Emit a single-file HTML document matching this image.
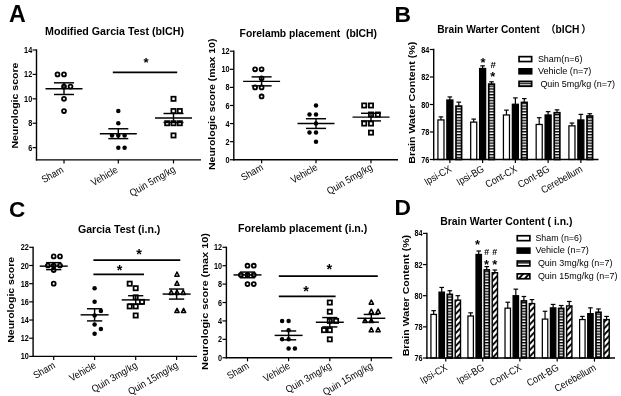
<!DOCTYPE html>
<html lang="en"><head><meta charset="utf-8"><title>Figure</title>
<style>html,body{margin:0;padding:0;background:#fff;}svg{display:block;will-change:transform;}text{font-family:'Liberation Sans', 'Noto Sans CJK SC', sans-serif;}</style>
</head><body>
<svg width="621" height="396" viewBox="0 0 621 396">
<defs>
<pattern id="hl" width="4" height="2.85" patternUnits="userSpaceOnUse"><rect width="4" height="2.85" fill="#fff"/><rect y="0" width="4" height="1.4" fill="#000"/></pattern>
<pattern id="dg" width="6" height="6.4" patternUnits="userSpaceOnUse"><rect width="6" height="6.4" fill="#fff"/><path d="M-3,9.6 L9,-3.2 M-9,9.6 L3,-3.2 M3,9.6 L15,-3.2" stroke="#000" stroke-width="1.9"/></pattern>
</defs>
<rect width="621" height="396" fill="#fff"/>
<text x="9.00" y="22.40" font-size="23.2" text-anchor="start" fill="#000" font-weight="bold">A</text>
<text x="394.50" y="21.60" font-size="22.8" text-anchor="start" fill="#000" font-weight="bold">B</text>
<text x="8.90" y="217.30" font-size="22.6" text-anchor="start" fill="#000" font-weight="bold">C</text>
<text x="394.50" y="214.70" font-size="22.8" text-anchor="start" fill="#000" font-weight="bold">D</text>
<line x1="36.50" y1="49.35" x2="36.50" y2="160.50" stroke="#000" stroke-width="1.4" stroke-linecap="butt"/>
<line x1="35.85" y1="159.85" x2="201.00" y2="159.85" stroke="#000" stroke-width="1.4" stroke-linecap="butt"/>
<line x1="32.60" y1="147.64" x2="36.50" y2="147.64" stroke="#000" stroke-width="1.2" stroke-linecap="butt"/>
<text x="32.20" y="150.69" font-size="8.6" text-anchor="end" fill="#000" font-weight="bold" textLength="4.05" lengthAdjust="spacingAndGlyphs">6</text>
<line x1="32.60" y1="123.23" x2="36.50" y2="123.23" stroke="#000" stroke-width="1.2" stroke-linecap="butt"/>
<text x="32.20" y="126.28" font-size="8.6" text-anchor="end" fill="#000" font-weight="bold" textLength="4.05" lengthAdjust="spacingAndGlyphs">8</text>
<line x1="32.60" y1="98.82" x2="36.50" y2="98.82" stroke="#000" stroke-width="1.2" stroke-linecap="butt"/>
<text x="32.20" y="101.87" font-size="8.6" text-anchor="end" fill="#000" font-weight="bold" textLength="8.10" lengthAdjust="spacingAndGlyphs">10</text>
<line x1="32.60" y1="74.41" x2="36.50" y2="74.41" stroke="#000" stroke-width="1.2" stroke-linecap="butt"/>
<text x="32.20" y="77.46" font-size="8.6" text-anchor="end" fill="#000" font-weight="bold" textLength="8.10" lengthAdjust="spacingAndGlyphs">12</text>
<line x1="32.60" y1="50.00" x2="36.50" y2="50.00" stroke="#000" stroke-width="1.2" stroke-linecap="butt"/>
<text x="32.20" y="53.05" font-size="8.6" text-anchor="end" fill="#000" font-weight="bold" textLength="8.10" lengthAdjust="spacingAndGlyphs">14</text>
<text x="17.80" y="105.60" font-size="9.8" text-anchor="middle" fill="#000" font-weight="bold" transform="rotate(-90 17.80 105.60)" textLength="86.00" lengthAdjust="spacingAndGlyphs">Neurologic score</text>
<text x="45.00" y="35.30" font-size="10.6" text-anchor="start" fill="#000" font-weight="bold" textLength="139.00" lengthAdjust="spacingAndGlyphs">Modified Garcia Test (bICH)</text>
<line x1="64.00" y1="159.85" x2="64.00" y2="163.45" stroke="#000" stroke-width="1.2" stroke-linecap="butt"/>
<text x="64.20" y="171.65" font-size="10.1" text-anchor="end" fill="#000" transform="rotate(-30 64.20 171.65)" textLength="23.45" lengthAdjust="spacingAndGlyphs">Sham</text>
<circle cx="57.50" cy="74.41" r="1.95" fill="#fff" stroke="#000" stroke-width="1.8"/>
<circle cx="64.00" cy="74.41" r="1.95" fill="#fff" stroke="#000" stroke-width="1.8"/>
<circle cx="64.00" cy="86.62" r="1.95" fill="#fff" stroke="#000" stroke-width="1.8"/>
<circle cx="70.50" cy="86.62" r="1.95" fill="#fff" stroke="#000" stroke-width="1.8"/>
<circle cx="64.00" cy="98.82" r="1.95" fill="#fff" stroke="#000" stroke-width="1.8"/>
<circle cx="64.00" cy="111.03" r="1.95" fill="#fff" stroke="#000" stroke-width="1.8"/>
<line x1="45.50" y1="88.65" x2="82.50" y2="88.65" stroke="#000" stroke-width="1.45" stroke-linecap="butt"/>
<line x1="54.00" y1="82.83" x2="74.00" y2="82.83" stroke="#000" stroke-width="1.45" stroke-linecap="butt"/>
<line x1="54.00" y1="94.48" x2="74.00" y2="94.48" stroke="#000" stroke-width="1.45" stroke-linecap="butt"/>
<line x1="64.00" y1="82.83" x2="64.00" y2="94.48" stroke="#000" stroke-width="1.45" stroke-linecap="butt"/>
<line x1="118.30" y1="159.85" x2="118.30" y2="163.45" stroke="#000" stroke-width="1.2" stroke-linecap="butt"/>
<text x="118.60" y="171.85" font-size="10.1" text-anchor="end" fill="#000" transform="rotate(-30 118.60 171.85)" textLength="28.95" lengthAdjust="spacingAndGlyphs">Vehicle</text>
<circle cx="118.30" cy="111.03" r="2.25" fill="#000"/>
<circle cx="118.30" cy="123.23" r="2.25" fill="#000"/>
<circle cx="112.00" cy="135.44" r="2.25" fill="#000"/>
<circle cx="118.30" cy="135.44" r="2.25" fill="#000"/>
<circle cx="124.60" cy="135.44" r="2.25" fill="#000"/>
<circle cx="118.30" cy="147.64" r="2.25" fill="#000"/>
<circle cx="124.60" cy="147.64" r="2.25" fill="#000"/>
<line x1="99.80" y1="133.70" x2="136.80" y2="133.70" stroke="#000" stroke-width="1.45" stroke-linecap="butt"/>
<line x1="108.30" y1="128.76" x2="128.30" y2="128.76" stroke="#000" stroke-width="1.45" stroke-linecap="butt"/>
<line x1="108.30" y1="138.63" x2="128.30" y2="138.63" stroke="#000" stroke-width="1.45" stroke-linecap="butt"/>
<line x1="118.30" y1="128.76" x2="118.30" y2="138.63" stroke="#000" stroke-width="1.45" stroke-linecap="butt"/>
<line x1="173.50" y1="159.85" x2="173.50" y2="163.45" stroke="#000" stroke-width="1.2" stroke-linecap="butt"/>
<text x="176.10" y="171.25" font-size="10.1" text-anchor="end" fill="#000" transform="rotate(-30 176.10 171.25)" textLength="50.89" lengthAdjust="spacingAndGlyphs">Quin 5mg/kg</text>
<rect x="171.40" y="96.72" width="4.2" height="4.2" fill="#fff" stroke="#000" stroke-width="1.75"/>
<rect x="171.40" y="108.93" width="4.2" height="4.2" fill="#fff" stroke="#000" stroke-width="1.75"/>
<rect x="177.70" y="108.93" width="4.2" height="4.2" fill="#fff" stroke="#000" stroke-width="1.75"/>
<rect x="165.10" y="121.13" width="4.2" height="4.2" fill="#fff" stroke="#000" stroke-width="1.75"/>
<rect x="171.40" y="121.13" width="4.2" height="4.2" fill="#fff" stroke="#000" stroke-width="1.75"/>
<rect x="177.70" y="121.13" width="4.2" height="4.2" fill="#fff" stroke="#000" stroke-width="1.75"/>
<rect x="171.40" y="133.34" width="4.2" height="4.2" fill="#fff" stroke="#000" stroke-width="1.75"/>
<line x1="155.00" y1="118.00" x2="192.00" y2="118.00" stroke="#000" stroke-width="1.45" stroke-linecap="butt"/>
<line x1="163.50" y1="113.50" x2="183.50" y2="113.50" stroke="#000" stroke-width="1.45" stroke-linecap="butt"/>
<line x1="163.50" y1="122.50" x2="183.50" y2="122.50" stroke="#000" stroke-width="1.45" stroke-linecap="butt"/>
<line x1="173.50" y1="113.50" x2="173.50" y2="122.50" stroke="#000" stroke-width="1.45" stroke-linecap="butt"/>
<line x1="112.80" y1="72.30" x2="177.20" y2="72.30" stroke="#000" stroke-width="1.7" stroke-linecap="butt"/>
<text x="146.10" y="67.13" font-size="13.2" text-anchor="middle" fill="#000" font-weight="bold">*</text>
<line x1="233.80" y1="50.55" x2="233.80" y2="160.40" stroke="#000" stroke-width="1.4" stroke-linecap="butt"/>
<line x1="233.15" y1="159.75" x2="398.00" y2="159.75" stroke="#000" stroke-width="1.4" stroke-linecap="butt"/>
<line x1="229.90" y1="159.75" x2="233.80" y2="159.75" stroke="#000" stroke-width="1.2" stroke-linecap="butt"/>
<text x="229.50" y="162.80" font-size="8.6" text-anchor="end" fill="#000" font-weight="bold" textLength="4.05" lengthAdjust="spacingAndGlyphs">0</text>
<line x1="229.90" y1="141.66" x2="233.80" y2="141.66" stroke="#000" stroke-width="1.2" stroke-linecap="butt"/>
<text x="229.50" y="144.71" font-size="8.6" text-anchor="end" fill="#000" font-weight="bold" textLength="4.05" lengthAdjust="spacingAndGlyphs">2</text>
<line x1="229.90" y1="123.57" x2="233.80" y2="123.57" stroke="#000" stroke-width="1.2" stroke-linecap="butt"/>
<text x="229.50" y="126.62" font-size="8.6" text-anchor="end" fill="#000" font-weight="bold" textLength="4.05" lengthAdjust="spacingAndGlyphs">4</text>
<line x1="229.90" y1="105.48" x2="233.80" y2="105.48" stroke="#000" stroke-width="1.2" stroke-linecap="butt"/>
<text x="229.50" y="108.53" font-size="8.6" text-anchor="end" fill="#000" font-weight="bold" textLength="4.05" lengthAdjust="spacingAndGlyphs">6</text>
<line x1="229.90" y1="87.38" x2="233.80" y2="87.38" stroke="#000" stroke-width="1.2" stroke-linecap="butt"/>
<text x="229.50" y="90.43" font-size="8.6" text-anchor="end" fill="#000" font-weight="bold" textLength="4.05" lengthAdjust="spacingAndGlyphs">8</text>
<line x1="229.90" y1="69.29" x2="233.80" y2="69.29" stroke="#000" stroke-width="1.2" stroke-linecap="butt"/>
<text x="229.50" y="72.34" font-size="8.6" text-anchor="end" fill="#000" font-weight="bold" textLength="8.10" lengthAdjust="spacingAndGlyphs">10</text>
<line x1="229.90" y1="51.20" x2="233.80" y2="51.20" stroke="#000" stroke-width="1.2" stroke-linecap="butt"/>
<text x="229.50" y="54.25" font-size="8.6" text-anchor="end" fill="#000" font-weight="bold" textLength="8.10" lengthAdjust="spacingAndGlyphs">12</text>
<text x="215.30" y="104.30" font-size="9.8" text-anchor="middle" fill="#000" font-weight="bold" transform="rotate(-90 215.30 104.30)" textLength="131.50" lengthAdjust="spacingAndGlyphs">Neurologic score (max 10)</text>
<text x="239.60" y="37.00" font-size="10.6" text-anchor="start" fill="#000" font-weight="bold" textLength="137.40" lengthAdjust="spacingAndGlyphs">Forelamb placement &#160;(bICH)</text>
<line x1="261.60" y1="159.75" x2="261.60" y2="163.35" stroke="#000" stroke-width="1.2" stroke-linecap="butt"/>
<text x="263.90" y="169.35" font-size="10.1" text-anchor="end" fill="#000" transform="rotate(-30 263.90 169.35)" textLength="23.45" lengthAdjust="spacingAndGlyphs">Sham</text>
<circle cx="255.10" cy="69.29" r="1.95" fill="#fff" stroke="#000" stroke-width="1.8"/>
<circle cx="261.60" cy="69.29" r="1.95" fill="#fff" stroke="#000" stroke-width="1.8"/>
<circle cx="261.60" cy="78.34" r="1.95" fill="#fff" stroke="#000" stroke-width="1.8"/>
<circle cx="255.10" cy="87.38" r="1.95" fill="#fff" stroke="#000" stroke-width="1.8"/>
<circle cx="261.60" cy="87.38" r="1.95" fill="#fff" stroke="#000" stroke-width="1.8"/>
<circle cx="261.60" cy="96.43" r="1.95" fill="#fff" stroke="#000" stroke-width="1.8"/>
<line x1="243.10" y1="81.35" x2="280.10" y2="81.35" stroke="#000" stroke-width="1.45" stroke-linecap="butt"/>
<line x1="251.60" y1="76.88" x2="271.60" y2="76.88" stroke="#000" stroke-width="1.45" stroke-linecap="butt"/>
<line x1="251.60" y1="85.83" x2="271.60" y2="85.83" stroke="#000" stroke-width="1.45" stroke-linecap="butt"/>
<line x1="261.60" y1="76.88" x2="261.60" y2="85.83" stroke="#000" stroke-width="1.45" stroke-linecap="butt"/>
<line x1="316.00" y1="159.75" x2="316.00" y2="163.35" stroke="#000" stroke-width="1.2" stroke-linecap="butt"/>
<text x="318.30" y="169.35" font-size="10.1" text-anchor="end" fill="#000" transform="rotate(-30 318.30 169.35)" textLength="28.95" lengthAdjust="spacingAndGlyphs">Vehicle</text>
<circle cx="316.00" cy="105.48" r="2.25" fill="#000"/>
<circle cx="309.50" cy="114.52" r="2.25" fill="#000"/>
<circle cx="316.00" cy="114.52" r="2.25" fill="#000"/>
<circle cx="316.00" cy="123.57" r="2.25" fill="#000"/>
<circle cx="309.50" cy="132.61" r="2.25" fill="#000"/>
<circle cx="316.00" cy="132.61" r="2.25" fill="#000"/>
<circle cx="316.00" cy="141.66" r="2.25" fill="#000"/>
<line x1="297.50" y1="123.57" x2="334.50" y2="123.57" stroke="#000" stroke-width="1.45" stroke-linecap="butt"/>
<line x1="306.00" y1="118.73" x2="326.00" y2="118.73" stroke="#000" stroke-width="1.45" stroke-linecap="butt"/>
<line x1="306.00" y1="128.40" x2="326.00" y2="128.40" stroke="#000" stroke-width="1.45" stroke-linecap="butt"/>
<line x1="316.00" y1="118.73" x2="316.00" y2="128.40" stroke="#000" stroke-width="1.45" stroke-linecap="butt"/>
<line x1="371.00" y1="159.75" x2="371.00" y2="163.35" stroke="#000" stroke-width="1.2" stroke-linecap="butt"/>
<text x="373.30" y="169.35" font-size="10.1" text-anchor="end" fill="#000" transform="rotate(-30 373.30 169.35)" textLength="50.89" lengthAdjust="spacingAndGlyphs">Quin 5mg/kg</text>
<rect x="362.10" y="103.38" width="4.2" height="4.2" fill="#fff" stroke="#000" stroke-width="1.75"/>
<rect x="368.90" y="103.38" width="4.2" height="4.2" fill="#fff" stroke="#000" stroke-width="1.75"/>
<rect x="368.90" y="112.42" width="4.2" height="4.2" fill="#fff" stroke="#000" stroke-width="1.75"/>
<rect x="375.70" y="112.42" width="4.2" height="4.2" fill="#fff" stroke="#000" stroke-width="1.75"/>
<rect x="362.10" y="121.47" width="4.2" height="4.2" fill="#fff" stroke="#000" stroke-width="1.75"/>
<rect x="368.90" y="121.47" width="4.2" height="4.2" fill="#fff" stroke="#000" stroke-width="1.75"/>
<rect x="368.90" y="130.51" width="4.2" height="4.2" fill="#fff" stroke="#000" stroke-width="1.75"/>
<line x1="352.50" y1="117.11" x2="389.50" y2="117.11" stroke="#000" stroke-width="1.45" stroke-linecap="butt"/>
<line x1="361.00" y1="113.30" x2="381.00" y2="113.30" stroke="#000" stroke-width="1.45" stroke-linecap="butt"/>
<line x1="361.00" y1="120.91" x2="381.00" y2="120.91" stroke="#000" stroke-width="1.45" stroke-linecap="butt"/>
<line x1="371.00" y1="113.30" x2="371.00" y2="120.91" stroke="#000" stroke-width="1.45" stroke-linecap="butt"/>
<line x1="33.10" y1="246.65" x2="33.10" y2="357.05" stroke="#000" stroke-width="1.4" stroke-linecap="butt"/>
<line x1="32.45" y1="356.40" x2="197.00" y2="356.40" stroke="#000" stroke-width="1.4" stroke-linecap="butt"/>
<line x1="29.20" y1="356.40" x2="33.10" y2="356.40" stroke="#000" stroke-width="1.2" stroke-linecap="butt"/>
<text x="28.80" y="359.45" font-size="8.6" text-anchor="end" fill="#000" font-weight="bold" textLength="8.10" lengthAdjust="spacingAndGlyphs">10</text>
<line x1="29.20" y1="338.22" x2="33.10" y2="338.22" stroke="#000" stroke-width="1.2" stroke-linecap="butt"/>
<text x="28.80" y="341.27" font-size="8.6" text-anchor="end" fill="#000" font-weight="bold" textLength="8.10" lengthAdjust="spacingAndGlyphs">12</text>
<line x1="29.20" y1="320.03" x2="33.10" y2="320.03" stroke="#000" stroke-width="1.2" stroke-linecap="butt"/>
<text x="28.80" y="323.08" font-size="8.6" text-anchor="end" fill="#000" font-weight="bold" textLength="8.10" lengthAdjust="spacingAndGlyphs">14</text>
<line x1="29.20" y1="301.85" x2="33.10" y2="301.85" stroke="#000" stroke-width="1.2" stroke-linecap="butt"/>
<text x="28.80" y="304.90" font-size="8.6" text-anchor="end" fill="#000" font-weight="bold" textLength="8.10" lengthAdjust="spacingAndGlyphs">16</text>
<line x1="29.20" y1="283.67" x2="33.10" y2="283.67" stroke="#000" stroke-width="1.2" stroke-linecap="butt"/>
<text x="28.80" y="286.72" font-size="8.6" text-anchor="end" fill="#000" font-weight="bold" textLength="8.10" lengthAdjust="spacingAndGlyphs">18</text>
<line x1="29.20" y1="265.48" x2="33.10" y2="265.48" stroke="#000" stroke-width="1.2" stroke-linecap="butt"/>
<text x="28.80" y="268.53" font-size="8.6" text-anchor="end" fill="#000" font-weight="bold" textLength="8.10" lengthAdjust="spacingAndGlyphs">20</text>
<line x1="29.20" y1="247.30" x2="33.10" y2="247.30" stroke="#000" stroke-width="1.2" stroke-linecap="butt"/>
<text x="28.80" y="250.35" font-size="8.6" text-anchor="end" fill="#000" font-weight="bold" textLength="8.10" lengthAdjust="spacingAndGlyphs">22</text>
<text x="13.70" y="299.80" font-size="9.8" text-anchor="middle" fill="#000" font-weight="bold" transform="rotate(-90 13.70 299.80)" textLength="86.00" lengthAdjust="spacingAndGlyphs">Neurologic score</text>
<text x="77.90" y="233.00" font-size="10.6" text-anchor="start" fill="#000" font-weight="bold" textLength="82.50" lengthAdjust="spacingAndGlyphs">Garcia Test (i.n.)</text>
<line x1="53.70" y1="356.40" x2="53.70" y2="360.00" stroke="#000" stroke-width="1.2" stroke-linecap="butt"/>
<text x="56.00" y="367.20" font-size="10.1" text-anchor="end" fill="#000" transform="rotate(-30 56.00 367.20)" textLength="23.45" lengthAdjust="spacingAndGlyphs">Sham</text>
<circle cx="53.70" cy="256.39" r="1.95" fill="#fff" stroke="#000" stroke-width="1.8"/>
<circle cx="60.00" cy="256.39" r="1.95" fill="#fff" stroke="#000" stroke-width="1.8"/>
<circle cx="47.90" cy="265.48" r="1.95" fill="#fff" stroke="#000" stroke-width="1.8"/>
<circle cx="53.70" cy="265.48" r="1.95" fill="#fff" stroke="#000" stroke-width="1.8"/>
<circle cx="60.00" cy="265.48" r="1.95" fill="#fff" stroke="#000" stroke-width="1.8"/>
<circle cx="53.70" cy="270.03" r="1.95" fill="#fff" stroke="#000" stroke-width="1.8"/>
<circle cx="53.70" cy="283.67" r="1.95" fill="#fff" stroke="#000" stroke-width="1.8"/>
<line x1="39.70" y1="266.13" x2="67.70" y2="266.13" stroke="#000" stroke-width="1.45" stroke-linecap="butt"/>
<line x1="46.10" y1="262.64" x2="61.30" y2="262.64" stroke="#000" stroke-width="1.45" stroke-linecap="butt"/>
<line x1="46.10" y1="269.63" x2="61.30" y2="269.63" stroke="#000" stroke-width="1.45" stroke-linecap="butt"/>
<line x1="53.70" y1="262.64" x2="53.70" y2="269.63" stroke="#000" stroke-width="1.45" stroke-linecap="butt"/>
<line x1="94.60" y1="356.40" x2="94.60" y2="360.00" stroke="#000" stroke-width="1.2" stroke-linecap="butt"/>
<text x="96.90" y="367.20" font-size="10.1" text-anchor="end" fill="#000" transform="rotate(-30 96.90 367.20)" textLength="28.95" lengthAdjust="spacingAndGlyphs">Vehicle</text>
<circle cx="94.60" cy="288.21" r="2.25" fill="#000"/>
<circle cx="94.60" cy="301.85" r="2.25" fill="#000"/>
<circle cx="100.90" cy="310.94" r="2.25" fill="#000"/>
<circle cx="94.60" cy="315.49" r="2.25" fill="#000"/>
<circle cx="94.60" cy="324.58" r="2.25" fill="#000"/>
<circle cx="100.90" cy="329.12" r="2.25" fill="#000"/>
<circle cx="94.60" cy="333.67" r="2.25" fill="#000"/>
<line x1="80.60" y1="314.84" x2="108.60" y2="314.84" stroke="#000" stroke-width="1.45" stroke-linecap="butt"/>
<line x1="87.00" y1="308.77" x2="102.20" y2="308.77" stroke="#000" stroke-width="1.45" stroke-linecap="butt"/>
<line x1="87.00" y1="320.91" x2="102.20" y2="320.91" stroke="#000" stroke-width="1.45" stroke-linecap="butt"/>
<line x1="94.60" y1="308.77" x2="94.60" y2="320.91" stroke="#000" stroke-width="1.45" stroke-linecap="butt"/>
<line x1="135.70" y1="356.40" x2="135.70" y2="360.00" stroke="#000" stroke-width="1.2" stroke-linecap="butt"/>
<text x="138.00" y="367.20" font-size="10.1" text-anchor="end" fill="#000" transform="rotate(-30 138.00 367.20)" textLength="50.89" lengthAdjust="spacingAndGlyphs">Quin 3mg/kg</text>
<rect x="127.60" y="281.57" width="4.2" height="4.2" fill="#fff" stroke="#000" stroke-width="1.75"/>
<rect x="133.60" y="286.11" width="4.2" height="4.2" fill="#fff" stroke="#000" stroke-width="1.75"/>
<rect x="133.60" y="295.20" width="4.2" height="4.2" fill="#fff" stroke="#000" stroke-width="1.75"/>
<rect x="139.90" y="299.75" width="4.2" height="4.2" fill="#fff" stroke="#000" stroke-width="1.75"/>
<rect x="127.60" y="304.30" width="4.2" height="4.2" fill="#fff" stroke="#000" stroke-width="1.75"/>
<rect x="133.60" y="304.30" width="4.2" height="4.2" fill="#fff" stroke="#000" stroke-width="1.75"/>
<rect x="133.60" y="313.39" width="4.2" height="4.2" fill="#fff" stroke="#000" stroke-width="1.75"/>
<line x1="121.70" y1="299.90" x2="149.70" y2="299.90" stroke="#000" stroke-width="1.45" stroke-linecap="butt"/>
<line x1="128.10" y1="295.71" x2="143.30" y2="295.71" stroke="#000" stroke-width="1.45" stroke-linecap="butt"/>
<line x1="128.10" y1="304.09" x2="143.30" y2="304.09" stroke="#000" stroke-width="1.45" stroke-linecap="butt"/>
<line x1="135.70" y1="295.71" x2="135.70" y2="304.09" stroke="#000" stroke-width="1.45" stroke-linecap="butt"/>
<line x1="176.60" y1="356.40" x2="176.60" y2="360.00" stroke="#000" stroke-width="1.2" stroke-linecap="butt"/>
<text x="178.90" y="367.20" font-size="10.1" text-anchor="end" fill="#000" transform="rotate(-30 178.90 367.20)" textLength="55.89" lengthAdjust="spacingAndGlyphs">Quin 15mg/kg</text>
<polygon points="177.00,272.02 174.85,276.22 179.15,276.22" fill="#fff" stroke="#000" stroke-width="1.5" stroke-linejoin="round"/>
<polygon points="177.00,281.12 174.85,285.32 179.15,285.32" fill="#fff" stroke="#000" stroke-width="1.5" stroke-linejoin="round"/>
<polygon points="171.20,290.21 169.05,294.41 173.35,294.41" fill="#fff" stroke="#000" stroke-width="1.5" stroke-linejoin="round"/>
<polygon points="177.00,290.21 174.85,294.41 179.15,294.41" fill="#fff" stroke="#000" stroke-width="1.5" stroke-linejoin="round"/>
<polygon points="183.20,290.21 181.05,294.41 185.35,294.41" fill="#fff" stroke="#000" stroke-width="1.5" stroke-linejoin="round"/>
<polygon points="177.00,308.39 174.85,312.59 179.15,312.59" fill="#fff" stroke="#000" stroke-width="1.5" stroke-linejoin="round"/>
<polygon points="183.60,308.39 181.45,312.59 185.75,312.59" fill="#fff" stroke="#000" stroke-width="1.5" stroke-linejoin="round"/>
<line x1="162.60" y1="294.06" x2="190.60" y2="294.06" stroke="#000" stroke-width="1.45" stroke-linecap="butt"/>
<line x1="169.00" y1="289.03" x2="184.20" y2="289.03" stroke="#000" stroke-width="1.45" stroke-linecap="butt"/>
<line x1="169.00" y1="299.09" x2="184.20" y2="299.09" stroke="#000" stroke-width="1.45" stroke-linecap="butt"/>
<line x1="176.60" y1="289.03" x2="176.60" y2="299.09" stroke="#000" stroke-width="1.45" stroke-linecap="butt"/>
<line x1="93.40" y1="260.10" x2="180.30" y2="260.10" stroke="#000" stroke-width="1.7" stroke-linecap="butt"/>
<text x="139.20" y="259.38" font-size="14.5" text-anchor="middle" fill="#000" font-weight="bold">*</text>
<line x1="93.40" y1="274.30" x2="144.00" y2="274.30" stroke="#000" stroke-width="1.7" stroke-linecap="butt"/>
<text x="119.60" y="274.78" font-size="14.5" text-anchor="middle" fill="#000" font-weight="bold">*</text>
<line x1="226.40" y1="246.65" x2="226.40" y2="358.40" stroke="#000" stroke-width="1.4" stroke-linecap="butt"/>
<line x1="225.75" y1="357.75" x2="392.20" y2="357.75" stroke="#000" stroke-width="1.4" stroke-linecap="butt"/>
<line x1="222.50" y1="357.75" x2="226.40" y2="357.75" stroke="#000" stroke-width="1.2" stroke-linecap="butt"/>
<text x="222.10" y="360.80" font-size="8.6" text-anchor="end" fill="#000" font-weight="bold" textLength="4.05" lengthAdjust="spacingAndGlyphs">0</text>
<line x1="222.50" y1="339.34" x2="226.40" y2="339.34" stroke="#000" stroke-width="1.2" stroke-linecap="butt"/>
<text x="222.10" y="342.39" font-size="8.6" text-anchor="end" fill="#000" font-weight="bold" textLength="4.05" lengthAdjust="spacingAndGlyphs">2</text>
<line x1="222.50" y1="320.93" x2="226.40" y2="320.93" stroke="#000" stroke-width="1.2" stroke-linecap="butt"/>
<text x="222.10" y="323.98" font-size="8.6" text-anchor="end" fill="#000" font-weight="bold" textLength="4.05" lengthAdjust="spacingAndGlyphs">4</text>
<line x1="222.50" y1="302.52" x2="226.40" y2="302.52" stroke="#000" stroke-width="1.2" stroke-linecap="butt"/>
<text x="222.10" y="305.57" font-size="8.6" text-anchor="end" fill="#000" font-weight="bold" textLength="4.05" lengthAdjust="spacingAndGlyphs">6</text>
<line x1="222.50" y1="284.12" x2="226.40" y2="284.12" stroke="#000" stroke-width="1.2" stroke-linecap="butt"/>
<text x="222.10" y="287.17" font-size="8.6" text-anchor="end" fill="#000" font-weight="bold" textLength="4.05" lengthAdjust="spacingAndGlyphs">8</text>
<line x1="222.50" y1="265.71" x2="226.40" y2="265.71" stroke="#000" stroke-width="1.2" stroke-linecap="butt"/>
<text x="222.10" y="268.76" font-size="8.6" text-anchor="end" fill="#000" font-weight="bold" textLength="8.10" lengthAdjust="spacingAndGlyphs">10</text>
<line x1="222.50" y1="247.30" x2="226.40" y2="247.30" stroke="#000" stroke-width="1.2" stroke-linecap="butt"/>
<text x="222.10" y="250.35" font-size="8.6" text-anchor="end" fill="#000" font-weight="bold" textLength="8.10" lengthAdjust="spacingAndGlyphs">12</text>
<text x="208.00" y="301.50" font-size="9.7" text-anchor="middle" fill="#000" font-weight="bold" transform="rotate(-90 208.00 301.50)" textLength="137.00" lengthAdjust="spacingAndGlyphs">Neurologic score (max 10)</text>
<text x="238.00" y="232.00" font-size="10.6" text-anchor="start" fill="#000" font-weight="bold" textLength="129.40" lengthAdjust="spacingAndGlyphs">Forelamb placement (i.n.)</text>
<line x1="247.50" y1="357.75" x2="247.50" y2="361.35" stroke="#000" stroke-width="1.2" stroke-linecap="butt"/>
<text x="249.80" y="367.75" font-size="10.1" text-anchor="end" fill="#000" transform="rotate(-30 249.80 367.75)" textLength="23.45" lengthAdjust="spacingAndGlyphs">Sham</text>
<circle cx="247.50" cy="265.71" r="1.95" fill="#fff" stroke="#000" stroke-width="1.8"/>
<circle cx="253.80" cy="265.71" r="1.95" fill="#fff" stroke="#000" stroke-width="1.8"/>
<circle cx="240.90" cy="274.91" r="1.95" fill="#fff" stroke="#000" stroke-width="1.8"/>
<circle cx="247.50" cy="274.91" r="1.95" fill="#fff" stroke="#000" stroke-width="1.8"/>
<circle cx="253.80" cy="274.91" r="1.95" fill="#fff" stroke="#000" stroke-width="1.8"/>
<circle cx="247.50" cy="284.12" r="1.95" fill="#fff" stroke="#000" stroke-width="1.8"/>
<circle cx="253.80" cy="284.12" r="1.95" fill="#fff" stroke="#000" stroke-width="1.8"/>
<line x1="233.50" y1="274.91" x2="261.50" y2="274.91" stroke="#000" stroke-width="1.45" stroke-linecap="butt"/>
<line x1="239.90" y1="272.07" x2="255.10" y2="272.07" stroke="#000" stroke-width="1.45" stroke-linecap="butt"/>
<line x1="239.90" y1="277.75" x2="255.10" y2="277.75" stroke="#000" stroke-width="1.45" stroke-linecap="butt"/>
<line x1="247.50" y1="272.07" x2="247.50" y2="277.75" stroke="#000" stroke-width="1.45" stroke-linecap="butt"/>
<line x1="288.60" y1="357.75" x2="288.60" y2="361.35" stroke="#000" stroke-width="1.2" stroke-linecap="butt"/>
<text x="290.90" y="367.75" font-size="10.1" text-anchor="end" fill="#000" transform="rotate(-30 290.90 367.75)" textLength="28.95" lengthAdjust="spacingAndGlyphs">Vehicle</text>
<circle cx="282.10" cy="320.93" r="2.25" fill="#000"/>
<circle cx="288.60" cy="320.93" r="2.25" fill="#000"/>
<circle cx="288.60" cy="330.14" r="2.25" fill="#000"/>
<circle cx="282.10" cy="339.34" r="2.25" fill="#000"/>
<circle cx="288.60" cy="339.34" r="2.25" fill="#000"/>
<circle cx="288.60" cy="348.55" r="2.25" fill="#000"/>
<circle cx="294.90" cy="348.55" r="2.25" fill="#000"/>
<line x1="274.60" y1="335.40" x2="302.60" y2="335.40" stroke="#000" stroke-width="1.45" stroke-linecap="butt"/>
<line x1="281.00" y1="330.97" x2="296.20" y2="330.97" stroke="#000" stroke-width="1.45" stroke-linecap="butt"/>
<line x1="281.00" y1="339.82" x2="296.20" y2="339.82" stroke="#000" stroke-width="1.45" stroke-linecap="butt"/>
<line x1="288.60" y1="330.97" x2="288.60" y2="339.82" stroke="#000" stroke-width="1.45" stroke-linecap="butt"/>
<line x1="329.80" y1="357.75" x2="329.80" y2="361.35" stroke="#000" stroke-width="1.2" stroke-linecap="butt"/>
<text x="332.10" y="367.75" font-size="10.1" text-anchor="end" fill="#000" transform="rotate(-30 332.10 367.75)" textLength="50.89" lengthAdjust="spacingAndGlyphs">Quin 3mg/kg</text>
<rect x="327.70" y="300.42" width="4.2" height="4.2" fill="#fff" stroke="#000" stroke-width="1.75"/>
<rect x="327.70" y="309.63" width="4.2" height="4.2" fill="#fff" stroke="#000" stroke-width="1.75"/>
<rect x="327.70" y="318.83" width="4.2" height="4.2" fill="#fff" stroke="#000" stroke-width="1.75"/>
<rect x="334.00" y="318.83" width="4.2" height="4.2" fill="#fff" stroke="#000" stroke-width="1.75"/>
<rect x="321.90" y="328.04" width="4.2" height="4.2" fill="#fff" stroke="#000" stroke-width="1.75"/>
<rect x="327.70" y="328.04" width="4.2" height="4.2" fill="#fff" stroke="#000" stroke-width="1.75"/>
<rect x="327.70" y="337.24" width="4.2" height="4.2" fill="#fff" stroke="#000" stroke-width="1.75"/>
<line x1="315.80" y1="322.25" x2="343.80" y2="322.25" stroke="#000" stroke-width="1.45" stroke-linecap="butt"/>
<line x1="322.20" y1="317.57" x2="337.40" y2="317.57" stroke="#000" stroke-width="1.45" stroke-linecap="butt"/>
<line x1="322.20" y1="326.93" x2="337.40" y2="326.93" stroke="#000" stroke-width="1.45" stroke-linecap="butt"/>
<line x1="329.80" y1="317.57" x2="329.80" y2="326.93" stroke="#000" stroke-width="1.45" stroke-linecap="butt"/>
<line x1="371.30" y1="357.75" x2="371.30" y2="361.35" stroke="#000" stroke-width="1.2" stroke-linecap="butt"/>
<text x="373.60" y="367.75" font-size="10.1" text-anchor="end" fill="#000" transform="rotate(-30 373.60 367.75)" textLength="55.89" lengthAdjust="spacingAndGlyphs">Quin 15mg/kg</text>
<polygon points="371.30,299.97 369.15,304.17 373.45,304.17" fill="#fff" stroke="#000" stroke-width="1.5" stroke-linejoin="round"/>
<polygon points="371.30,309.18 369.15,313.38 373.45,313.38" fill="#fff" stroke="#000" stroke-width="1.5" stroke-linejoin="round"/>
<polygon points="378.10,309.18 375.95,313.38 380.25,313.38" fill="#fff" stroke="#000" stroke-width="1.5" stroke-linejoin="round"/>
<polygon points="365.00,318.38 362.85,322.58 367.15,322.58" fill="#fff" stroke="#000" stroke-width="1.5" stroke-linejoin="round"/>
<polygon points="371.30,318.38 369.15,322.58 373.45,322.58" fill="#fff" stroke="#000" stroke-width="1.5" stroke-linejoin="round"/>
<polygon points="371.30,327.59 369.15,331.79 373.45,331.79" fill="#fff" stroke="#000" stroke-width="1.5" stroke-linejoin="round"/>
<polygon points="378.10,327.59 375.95,331.79 380.25,331.79" fill="#fff" stroke="#000" stroke-width="1.5" stroke-linejoin="round"/>
<line x1="357.30" y1="318.30" x2="385.30" y2="318.30" stroke="#000" stroke-width="1.45" stroke-linecap="butt"/>
<line x1="363.70" y1="314.43" x2="378.90" y2="314.43" stroke="#000" stroke-width="1.45" stroke-linecap="butt"/>
<line x1="363.70" y1="322.17" x2="378.90" y2="322.17" stroke="#000" stroke-width="1.45" stroke-linecap="butt"/>
<line x1="371.30" y1="314.43" x2="371.30" y2="322.17" stroke="#000" stroke-width="1.45" stroke-linecap="butt"/>
<line x1="278.80" y1="276.10" x2="377.80" y2="276.10" stroke="#000" stroke-width="1.7" stroke-linecap="butt"/>
<text x="329.40" y="273.88" font-size="14.5" text-anchor="middle" fill="#000" font-weight="bold">*</text>
<line x1="278.80" y1="296.40" x2="335.60" y2="296.40" stroke="#000" stroke-width="1.7" stroke-linecap="butt"/>
<text x="306.00" y="295.78" font-size="14.5" text-anchor="middle" fill="#000" font-weight="bold">*</text>
<line x1="440.95" y1="119.90" x2="440.95" y2="116.88" stroke="#000" stroke-width="1.2" stroke-linecap="butt"/>
<line x1="438.65" y1="116.88" x2="443.25" y2="116.88" stroke="#000" stroke-width="1.2" stroke-linecap="butt"/>
<rect x="437.93" y="119.93" width="6.05" height="39.57" fill="#fff" stroke="#000" stroke-width="1.25"/>
<line x1="449.87" y1="99.96" x2="449.87" y2="96.94" stroke="#000" stroke-width="1.2" stroke-linecap="butt"/>
<line x1="447.57" y1="96.94" x2="452.17" y2="96.94" stroke="#000" stroke-width="1.2" stroke-linecap="butt"/>
<rect x="446.85" y="99.99" width="6.05" height="59.51" fill="#000" stroke="#000" stroke-width="1.25"/>
<line x1="458.79" y1="105.87" x2="458.79" y2="102.16" stroke="#000" stroke-width="1.2" stroke-linecap="butt"/>
<line x1="456.49" y1="102.16" x2="461.09" y2="102.16" stroke="#000" stroke-width="1.2" stroke-linecap="butt"/>
<rect x="455.99" y="106.12" width="5.60" height="53.38" fill="url(#hl)" stroke="#000" stroke-width="1.7"/>
<line x1="449.87" y1="159.50" x2="449.87" y2="163.10" stroke="#000" stroke-width="1.2" stroke-linecap="butt"/>
<text x="452.17" y="170.90" font-size="10.1" text-anchor="end" fill="#000" transform="rotate(-30 452.17 170.90)" textLength="29.43" lengthAdjust="spacingAndGlyphs">Ipsi-CX</text>
<line x1="473.70" y1="122.10" x2="473.70" y2="119.08" stroke="#000" stroke-width="1.2" stroke-linecap="butt"/>
<line x1="471.40" y1="119.08" x2="476.00" y2="119.08" stroke="#000" stroke-width="1.2" stroke-linecap="butt"/>
<rect x="470.68" y="122.13" width="6.05" height="37.37" fill="#fff" stroke="#000" stroke-width="1.25"/>
<line x1="482.62" y1="68.47" x2="482.62" y2="65.86" stroke="#000" stroke-width="1.2" stroke-linecap="butt"/>
<line x1="480.32" y1="65.86" x2="484.92" y2="65.86" stroke="#000" stroke-width="1.2" stroke-linecap="butt"/>
<rect x="479.60" y="68.50" width="6.05" height="91.00" fill="#000" stroke="#000" stroke-width="1.25"/>
<line x1="491.54" y1="83.88" x2="491.54" y2="81.81" stroke="#000" stroke-width="1.2" stroke-linecap="butt"/>
<line x1="489.24" y1="81.81" x2="493.84" y2="81.81" stroke="#000" stroke-width="1.2" stroke-linecap="butt"/>
<rect x="488.74" y="84.12" width="5.60" height="75.38" fill="url(#hl)" stroke="#000" stroke-width="1.7"/>
<line x1="482.62" y1="159.50" x2="482.62" y2="163.10" stroke="#000" stroke-width="1.2" stroke-linecap="butt"/>
<text x="484.92" y="170.90" font-size="10.1" text-anchor="end" fill="#000" transform="rotate(-30 484.92 170.90)" textLength="29.93" lengthAdjust="spacingAndGlyphs">Ipsi-BG</text>
<line x1="506.45" y1="114.95" x2="506.45" y2="110.14" stroke="#000" stroke-width="1.2" stroke-linecap="butt"/>
<line x1="504.15" y1="110.14" x2="508.75" y2="110.14" stroke="#000" stroke-width="1.2" stroke-linecap="butt"/>
<rect x="503.43" y="114.98" width="6.05" height="44.52" fill="#fff" stroke="#000" stroke-width="1.25"/>
<line x1="515.37" y1="104.23" x2="515.37" y2="97.90" stroke="#000" stroke-width="1.2" stroke-linecap="butt"/>
<line x1="513.07" y1="97.90" x2="517.67" y2="97.90" stroke="#000" stroke-width="1.2" stroke-linecap="butt"/>
<rect x="512.35" y="104.25" width="6.05" height="55.25" fill="#000" stroke="#000" stroke-width="1.25"/>
<line x1="524.29" y1="102.16" x2="524.29" y2="98.59" stroke="#000" stroke-width="1.2" stroke-linecap="butt"/>
<line x1="521.99" y1="98.59" x2="526.59" y2="98.59" stroke="#000" stroke-width="1.2" stroke-linecap="butt"/>
<rect x="521.49" y="102.41" width="5.60" height="57.09" fill="url(#hl)" stroke="#000" stroke-width="1.7"/>
<line x1="515.37" y1="159.50" x2="515.37" y2="163.10" stroke="#000" stroke-width="1.2" stroke-linecap="butt"/>
<text x="517.67" y="170.90" font-size="10.1" text-anchor="end" fill="#000" transform="rotate(-30 517.67 170.90)" textLength="34.43" lengthAdjust="spacingAndGlyphs">Cont-CX</text>
<line x1="539.20" y1="124.44" x2="539.20" y2="117.70" stroke="#000" stroke-width="1.2" stroke-linecap="butt"/>
<line x1="536.90" y1="117.70" x2="541.50" y2="117.70" stroke="#000" stroke-width="1.2" stroke-linecap="butt"/>
<rect x="536.17" y="124.46" width="6.05" height="35.04" fill="#fff" stroke="#000" stroke-width="1.25"/>
<line x1="548.12" y1="114.95" x2="548.12" y2="111.65" stroke="#000" stroke-width="1.2" stroke-linecap="butt"/>
<line x1="545.82" y1="111.65" x2="550.42" y2="111.65" stroke="#000" stroke-width="1.2" stroke-linecap="butt"/>
<rect x="545.09" y="114.98" width="6.05" height="44.52" fill="#000" stroke="#000" stroke-width="1.25"/>
<line x1="557.04" y1="112.47" x2="557.04" y2="109.86" stroke="#000" stroke-width="1.2" stroke-linecap="butt"/>
<line x1="554.74" y1="109.86" x2="559.34" y2="109.86" stroke="#000" stroke-width="1.2" stroke-linecap="butt"/>
<rect x="554.24" y="112.72" width="5.60" height="46.78" fill="url(#hl)" stroke="#000" stroke-width="1.7"/>
<line x1="548.12" y1="159.50" x2="548.12" y2="163.10" stroke="#000" stroke-width="1.2" stroke-linecap="butt"/>
<text x="550.42" y="170.90" font-size="10.1" text-anchor="end" fill="#000" transform="rotate(-30 550.42 170.90)" textLength="34.92" lengthAdjust="spacingAndGlyphs">Cont-BG</text>
<line x1="571.95" y1="125.81" x2="571.95" y2="123.06" stroke="#000" stroke-width="1.2" stroke-linecap="butt"/>
<line x1="569.65" y1="123.06" x2="574.25" y2="123.06" stroke="#000" stroke-width="1.2" stroke-linecap="butt"/>
<rect x="568.92" y="125.84" width="6.05" height="33.66" fill="#fff" stroke="#000" stroke-width="1.25"/>
<line x1="580.87" y1="119.90" x2="580.87" y2="114.40" stroke="#000" stroke-width="1.2" stroke-linecap="butt"/>
<line x1="578.57" y1="114.40" x2="583.17" y2="114.40" stroke="#000" stroke-width="1.2" stroke-linecap="butt"/>
<rect x="577.84" y="119.93" width="6.05" height="39.57" fill="#000" stroke="#000" stroke-width="1.25"/>
<line x1="589.79" y1="115.77" x2="589.79" y2="113.71" stroke="#000" stroke-width="1.2" stroke-linecap="butt"/>
<line x1="587.49" y1="113.71" x2="592.09" y2="113.71" stroke="#000" stroke-width="1.2" stroke-linecap="butt"/>
<rect x="586.99" y="116.02" width="5.60" height="43.48" fill="url(#hl)" stroke="#000" stroke-width="1.7"/>
<line x1="580.87" y1="159.50" x2="580.87" y2="163.10" stroke="#000" stroke-width="1.2" stroke-linecap="butt"/>
<text x="583.17" y="170.90" font-size="10.1" text-anchor="end" fill="#000" transform="rotate(-30 583.17 170.90)" textLength="45.91" lengthAdjust="spacingAndGlyphs">Cerebellum</text>
<line x1="433.70" y1="48.85" x2="433.70" y2="160.15" stroke="#000" stroke-width="1.4" stroke-linecap="butt"/>
<line x1="433.05" y1="159.50" x2="598.50" y2="159.50" stroke="#000" stroke-width="1.4" stroke-linecap="butt"/>
<line x1="429.80" y1="159.50" x2="433.70" y2="159.50" stroke="#000" stroke-width="1.2" stroke-linecap="butt"/>
<text x="429.40" y="162.55" font-size="8.6" text-anchor="end" fill="#000" font-weight="bold" textLength="8.10" lengthAdjust="spacingAndGlyphs">76</text>
<line x1="429.80" y1="132.00" x2="433.70" y2="132.00" stroke="#000" stroke-width="1.2" stroke-linecap="butt"/>
<text x="429.40" y="135.05" font-size="8.6" text-anchor="end" fill="#000" font-weight="bold" textLength="8.10" lengthAdjust="spacingAndGlyphs">78</text>
<line x1="429.80" y1="104.50" x2="433.70" y2="104.50" stroke="#000" stroke-width="1.2" stroke-linecap="butt"/>
<text x="429.40" y="107.55" font-size="8.6" text-anchor="end" fill="#000" font-weight="bold" textLength="8.10" lengthAdjust="spacingAndGlyphs">80</text>
<line x1="429.80" y1="77.00" x2="433.70" y2="77.00" stroke="#000" stroke-width="1.2" stroke-linecap="butt"/>
<text x="429.40" y="80.05" font-size="8.6" text-anchor="end" fill="#000" font-weight="bold" textLength="8.10" lengthAdjust="spacingAndGlyphs">82</text>
<line x1="429.80" y1="49.50" x2="433.70" y2="49.50" stroke="#000" stroke-width="1.2" stroke-linecap="butt"/>
<text x="429.40" y="52.55" font-size="8.6" text-anchor="end" fill="#000" font-weight="bold" textLength="8.10" lengthAdjust="spacingAndGlyphs">84</text>
<text x="415.00" y="102.70" font-size="9.8" text-anchor="middle" fill="#000" font-weight="bold" transform="rotate(-90 415.00 102.70)" textLength="122.00" lengthAdjust="spacingAndGlyphs">Brain Water Content (%)</text>
<text x="437.20" y="33.00" font-size="10.6" text-anchor="start" fill="#000" font-weight="bold"><tspan textLength="102.4" lengthAdjust="spacingAndGlyphs">Brain Warter Content</tspan><tspan x="545.5" font-size="10.2">（</tspan><tspan x="555.6" textLength="23.9" lengthAdjust="spacingAndGlyphs">bICH</tspan><tspan x="581.2" font-size="10.2">）</tspan></text>
<rect x="519.05" y="56.65" width="12.60" height="4.90" fill="#fff" stroke="#000" stroke-width="1.7"/>
<text x="537.90" y="61.90" font-size="9.4" text-anchor="start" fill="#000" textLength="44.50" lengthAdjust="spacingAndGlyphs">Sham(n=6)</text>
<rect x="519.05" y="68.85" width="12.60" height="4.90" fill="#000" stroke="#000" stroke-width="1.7"/>
<text x="537.90" y="74.10" font-size="9.4" text-anchor="start" fill="#000" textLength="53.50" lengthAdjust="spacingAndGlyphs">Vehicle (n=7)</text>
<rect x="519.05" y="81.35" width="12.60" height="4.90" fill="url(#hl)" stroke="#000" stroke-width="1.7"/>
<text x="540.40" y="86.60" font-size="9.4" text-anchor="start" fill="#000" textLength="74.50" lengthAdjust="spacingAndGlyphs">Quin 5mg/kg (n=7)</text>
<text x="482.90" y="66.83" font-size="12.8" text-anchor="middle" fill="#000" font-weight="bold">*</text>
<text x="493.20" y="68.46" font-size="9.6" text-anchor="middle" fill="#000" font-weight="bold">#</text>
<text x="492.80" y="80.63" font-size="12.8" text-anchor="middle" fill="#000" font-weight="bold">*</text>
<line x1="433.65" y1="314.39" x2="433.65" y2="310.65" stroke="#000" stroke-width="1.2" stroke-linecap="butt"/>
<line x1="431.35" y1="310.65" x2="435.95" y2="310.65" stroke="#000" stroke-width="1.2" stroke-linecap="butt"/>
<rect x="430.93" y="314.42" width="5.45" height="43.58" fill="#fff" stroke="#000" stroke-width="1.25"/>
<line x1="441.72" y1="292.12" x2="441.72" y2="287.45" stroke="#000" stroke-width="1.2" stroke-linecap="butt"/>
<line x1="439.42" y1="287.45" x2="444.02" y2="287.45" stroke="#000" stroke-width="1.2" stroke-linecap="butt"/>
<rect x="439.00" y="292.14" width="5.45" height="65.86" fill="#000" stroke="#000" stroke-width="1.25"/>
<line x1="449.79" y1="294.14" x2="449.79" y2="290.72" stroke="#000" stroke-width="1.2" stroke-linecap="butt"/>
<line x1="447.49" y1="290.72" x2="452.09" y2="290.72" stroke="#000" stroke-width="1.2" stroke-linecap="butt"/>
<rect x="447.29" y="294.39" width="5.00" height="63.61" fill="url(#hl)" stroke="#000" stroke-width="1.7"/>
<line x1="457.86" y1="300.06" x2="457.86" y2="295.70" stroke="#000" stroke-width="1.2" stroke-linecap="butt"/>
<line x1="455.56" y1="295.70" x2="460.16" y2="295.70" stroke="#000" stroke-width="1.2" stroke-linecap="butt"/>
<rect x="455.21" y="300.16" width="5.30" height="57.84" fill="url(#dg)" stroke="#000" stroke-width="1.4"/>
<line x1="445.75" y1="358.00" x2="445.75" y2="361.60" stroke="#000" stroke-width="1.2" stroke-linecap="butt"/>
<text x="448.06" y="369.40" font-size="10.1" text-anchor="end" fill="#000" transform="rotate(-30 448.06 369.40)" textLength="29.43" lengthAdjust="spacingAndGlyphs">Ipsi-CX</text>
<line x1="470.65" y1="315.95" x2="470.65" y2="312.83" stroke="#000" stroke-width="1.2" stroke-linecap="butt"/>
<line x1="468.35" y1="312.83" x2="472.95" y2="312.83" stroke="#000" stroke-width="1.2" stroke-linecap="butt"/>
<rect x="467.93" y="315.97" width="5.45" height="42.03" fill="#fff" stroke="#000" stroke-width="1.25"/>
<line x1="478.72" y1="254.43" x2="478.72" y2="251.00" stroke="#000" stroke-width="1.2" stroke-linecap="butt"/>
<line x1="476.42" y1="251.00" x2="481.02" y2="251.00" stroke="#000" stroke-width="1.2" stroke-linecap="butt"/>
<rect x="476.00" y="254.45" width="5.45" height="103.55" fill="#000" stroke="#000" stroke-width="1.25"/>
<line x1="486.79" y1="269.69" x2="486.79" y2="266.57" stroke="#000" stroke-width="1.2" stroke-linecap="butt"/>
<line x1="484.49" y1="266.57" x2="489.09" y2="266.57" stroke="#000" stroke-width="1.2" stroke-linecap="butt"/>
<rect x="484.29" y="269.94" width="5.00" height="88.06" fill="url(#hl)" stroke="#000" stroke-width="1.7"/>
<line x1="494.86" y1="272.65" x2="494.86" y2="270.00" stroke="#000" stroke-width="1.2" stroke-linecap="butt"/>
<line x1="492.56" y1="270.00" x2="497.16" y2="270.00" stroke="#000" stroke-width="1.2" stroke-linecap="butt"/>
<rect x="492.21" y="272.75" width="5.30" height="85.25" fill="url(#dg)" stroke="#000" stroke-width="1.4"/>
<line x1="482.75" y1="358.00" x2="482.75" y2="361.60" stroke="#000" stroke-width="1.2" stroke-linecap="butt"/>
<text x="485.06" y="369.40" font-size="10.1" text-anchor="end" fill="#000" transform="rotate(-30 485.06 369.40)" textLength="29.93" lengthAdjust="spacingAndGlyphs">Ipsi-BG</text>
<line x1="507.75" y1="308.16" x2="507.75" y2="302.24" stroke="#000" stroke-width="1.2" stroke-linecap="butt"/>
<line x1="505.45" y1="302.24" x2="510.05" y2="302.24" stroke="#000" stroke-width="1.2" stroke-linecap="butt"/>
<rect x="505.02" y="308.18" width="5.45" height="49.82" fill="#fff" stroke="#000" stroke-width="1.25"/>
<line x1="515.82" y1="295.70" x2="515.82" y2="289.16" stroke="#000" stroke-width="1.2" stroke-linecap="butt"/>
<line x1="513.52" y1="289.16" x2="518.12" y2="289.16" stroke="#000" stroke-width="1.2" stroke-linecap="butt"/>
<rect x="513.10" y="295.72" width="5.45" height="62.28" fill="#000" stroke="#000" stroke-width="1.25"/>
<line x1="523.89" y1="300.68" x2="523.89" y2="296.48" stroke="#000" stroke-width="1.2" stroke-linecap="butt"/>
<line x1="521.59" y1="296.48" x2="526.19" y2="296.48" stroke="#000" stroke-width="1.2" stroke-linecap="butt"/>
<rect x="521.39" y="300.93" width="5.00" height="57.07" fill="url(#hl)" stroke="#000" stroke-width="1.7"/>
<line x1="531.96" y1="303.49" x2="531.96" y2="299.59" stroke="#000" stroke-width="1.2" stroke-linecap="butt"/>
<line x1="529.66" y1="299.59" x2="534.26" y2="299.59" stroke="#000" stroke-width="1.2" stroke-linecap="butt"/>
<rect x="529.31" y="303.59" width="5.30" height="54.41" fill="url(#dg)" stroke="#000" stroke-width="1.4"/>
<line x1="519.86" y1="358.00" x2="519.86" y2="361.60" stroke="#000" stroke-width="1.2" stroke-linecap="butt"/>
<text x="522.15" y="369.40" font-size="10.1" text-anchor="end" fill="#000" transform="rotate(-30 522.15 369.40)" textLength="34.43" lengthAdjust="spacingAndGlyphs">Cont-CX</text>
<line x1="545.05" y1="319.06" x2="545.05" y2="311.27" stroke="#000" stroke-width="1.2" stroke-linecap="butt"/>
<line x1="542.75" y1="311.27" x2="547.35" y2="311.27" stroke="#000" stroke-width="1.2" stroke-linecap="butt"/>
<rect x="542.33" y="319.09" width="5.45" height="38.91" fill="#fff" stroke="#000" stroke-width="1.25"/>
<line x1="553.12" y1="307.85" x2="553.12" y2="304.42" stroke="#000" stroke-width="1.2" stroke-linecap="butt"/>
<line x1="550.82" y1="304.42" x2="555.42" y2="304.42" stroke="#000" stroke-width="1.2" stroke-linecap="butt"/>
<rect x="550.40" y="307.87" width="5.45" height="50.13" fill="#000" stroke="#000" stroke-width="1.25"/>
<line x1="561.19" y1="308.16" x2="561.19" y2="305.51" stroke="#000" stroke-width="1.2" stroke-linecap="butt"/>
<line x1="558.89" y1="305.51" x2="563.49" y2="305.51" stroke="#000" stroke-width="1.2" stroke-linecap="butt"/>
<rect x="558.69" y="308.41" width="5.00" height="49.59" fill="url(#hl)" stroke="#000" stroke-width="1.7"/>
<line x1="569.26" y1="305.82" x2="569.26" y2="301.46" stroke="#000" stroke-width="1.2" stroke-linecap="butt"/>
<line x1="566.96" y1="301.46" x2="571.56" y2="301.46" stroke="#000" stroke-width="1.2" stroke-linecap="butt"/>
<rect x="566.61" y="305.92" width="5.30" height="52.08" fill="url(#dg)" stroke="#000" stroke-width="1.4"/>
<line x1="557.16" y1="358.00" x2="557.16" y2="361.60" stroke="#000" stroke-width="1.2" stroke-linecap="butt"/>
<text x="559.46" y="369.40" font-size="10.1" text-anchor="end" fill="#000" transform="rotate(-30 559.46 369.40)" textLength="34.92" lengthAdjust="spacingAndGlyphs">Cont-BG</text>
<line x1="582.35" y1="319.53" x2="582.35" y2="316.41" stroke="#000" stroke-width="1.2" stroke-linecap="butt"/>
<line x1="580.05" y1="316.41" x2="584.65" y2="316.41" stroke="#000" stroke-width="1.2" stroke-linecap="butt"/>
<rect x="579.62" y="319.55" width="5.45" height="38.45" fill="#fff" stroke="#000" stroke-width="1.25"/>
<line x1="590.42" y1="313.61" x2="590.42" y2="307.85" stroke="#000" stroke-width="1.2" stroke-linecap="butt"/>
<line x1="588.12" y1="307.85" x2="592.72" y2="307.85" stroke="#000" stroke-width="1.2" stroke-linecap="butt"/>
<rect x="587.70" y="313.64" width="5.45" height="44.36" fill="#000" stroke="#000" stroke-width="1.25"/>
<line x1="598.49" y1="312.05" x2="598.49" y2="308.94" stroke="#000" stroke-width="1.2" stroke-linecap="butt"/>
<line x1="596.19" y1="308.94" x2="600.79" y2="308.94" stroke="#000" stroke-width="1.2" stroke-linecap="butt"/>
<rect x="595.99" y="312.30" width="5.00" height="45.70" fill="url(#hl)" stroke="#000" stroke-width="1.7"/>
<line x1="606.56" y1="319.53" x2="606.56" y2="316.41" stroke="#000" stroke-width="1.2" stroke-linecap="butt"/>
<line x1="604.26" y1="316.41" x2="608.86" y2="316.41" stroke="#000" stroke-width="1.2" stroke-linecap="butt"/>
<rect x="603.91" y="319.63" width="5.30" height="38.37" fill="url(#dg)" stroke="#000" stroke-width="1.4"/>
<line x1="594.46" y1="358.00" x2="594.46" y2="361.60" stroke="#000" stroke-width="1.2" stroke-linecap="butt"/>
<text x="596.75" y="369.40" font-size="10.1" text-anchor="end" fill="#000" transform="rotate(-30 596.75 369.40)" textLength="45.91" lengthAdjust="spacingAndGlyphs">Cerebellum</text>
<line x1="426.90" y1="232.75" x2="426.90" y2="358.65" stroke="#000" stroke-width="1.4" stroke-linecap="butt"/>
<line x1="426.25" y1="358.00" x2="615.00" y2="358.00" stroke="#000" stroke-width="1.4" stroke-linecap="butt"/>
<line x1="423.00" y1="358.00" x2="426.90" y2="358.00" stroke="#000" stroke-width="1.2" stroke-linecap="butt"/>
<text x="422.60" y="361.05" font-size="8.6" text-anchor="end" fill="#000" font-weight="bold" textLength="8.10" lengthAdjust="spacingAndGlyphs">76</text>
<line x1="423.00" y1="326.85" x2="426.90" y2="326.85" stroke="#000" stroke-width="1.2" stroke-linecap="butt"/>
<text x="422.60" y="329.90" font-size="8.6" text-anchor="end" fill="#000" font-weight="bold" textLength="8.10" lengthAdjust="spacingAndGlyphs">78</text>
<line x1="423.00" y1="295.70" x2="426.90" y2="295.70" stroke="#000" stroke-width="1.2" stroke-linecap="butt"/>
<text x="422.60" y="298.75" font-size="8.6" text-anchor="end" fill="#000" font-weight="bold" textLength="8.10" lengthAdjust="spacingAndGlyphs">80</text>
<line x1="423.00" y1="264.55" x2="426.90" y2="264.55" stroke="#000" stroke-width="1.2" stroke-linecap="butt"/>
<text x="422.60" y="267.60" font-size="8.6" text-anchor="end" fill="#000" font-weight="bold" textLength="8.10" lengthAdjust="spacingAndGlyphs">82</text>
<line x1="423.00" y1="233.40" x2="426.90" y2="233.40" stroke="#000" stroke-width="1.2" stroke-linecap="butt"/>
<text x="422.60" y="236.45" font-size="8.6" text-anchor="end" fill="#000" font-weight="bold" textLength="8.10" lengthAdjust="spacingAndGlyphs">84</text>
<text x="408.70" y="295.60" font-size="9.8" text-anchor="middle" fill="#000" font-weight="bold" transform="rotate(-90 408.70 295.60)" textLength="121.50" lengthAdjust="spacingAndGlyphs">Brain Water Content (%)</text>
<text x="440.20" y="225.00" font-size="10.6" text-anchor="start" fill="#000" font-weight="bold" textLength="132.30" lengthAdjust="spacingAndGlyphs">Brain Warter Content ( i.n.)</text>
<rect x="517.25" y="235.75" width="12.60" height="4.90" fill="#fff" stroke="#000" stroke-width="1.7"/>
<text x="535.40" y="241.00" font-size="9.4" text-anchor="start" fill="#000" textLength="46.50" lengthAdjust="spacingAndGlyphs">Sham (n=6)</text>
<rect x="517.25" y="248.15" width="12.60" height="4.90" fill="#000" stroke="#000" stroke-width="1.7"/>
<text x="535.40" y="253.40" font-size="9.4" text-anchor="start" fill="#000" textLength="53.50" lengthAdjust="spacingAndGlyphs">Vehicle (n=7)</text>
<rect x="517.25" y="261.05" width="12.60" height="4.90" fill="url(#hl)" stroke="#000" stroke-width="1.7"/>
<text x="537.90" y="266.30" font-size="9.4" text-anchor="start" fill="#000" textLength="74.50" lengthAdjust="spacingAndGlyphs">Quin 3mg/kg (n=7)</text>
<rect x="517.25" y="273.85" width="12.60" height="4.90" fill="url(#dg)" stroke="#000" stroke-width="1.7"/>
<text x="537.90" y="279.10" font-size="9.4" text-anchor="start" fill="#000" textLength="79.50" lengthAdjust="spacingAndGlyphs">Quin 15mg/kg (n=7)</text>
<text x="477.60" y="248.63" font-size="12.8" text-anchor="middle" fill="#000" font-weight="bold">*</text>
<text x="486.80" y="255.26" font-size="9.6" text-anchor="middle" fill="#000" font-weight="bold" textLength="4.90" lengthAdjust="spacingAndGlyphs">#</text>
<text x="486.60" y="268.73" font-size="12.8" text-anchor="middle" fill="#000" font-weight="bold">*</text>
<text x="494.70" y="255.26" font-size="9.6" text-anchor="middle" fill="#000" font-weight="bold" textLength="4.90" lengthAdjust="spacingAndGlyphs">#</text>
<text x="494.70" y="268.73" font-size="12.8" text-anchor="middle" fill="#000" font-weight="bold">*</text>
</svg>
</body></html>
